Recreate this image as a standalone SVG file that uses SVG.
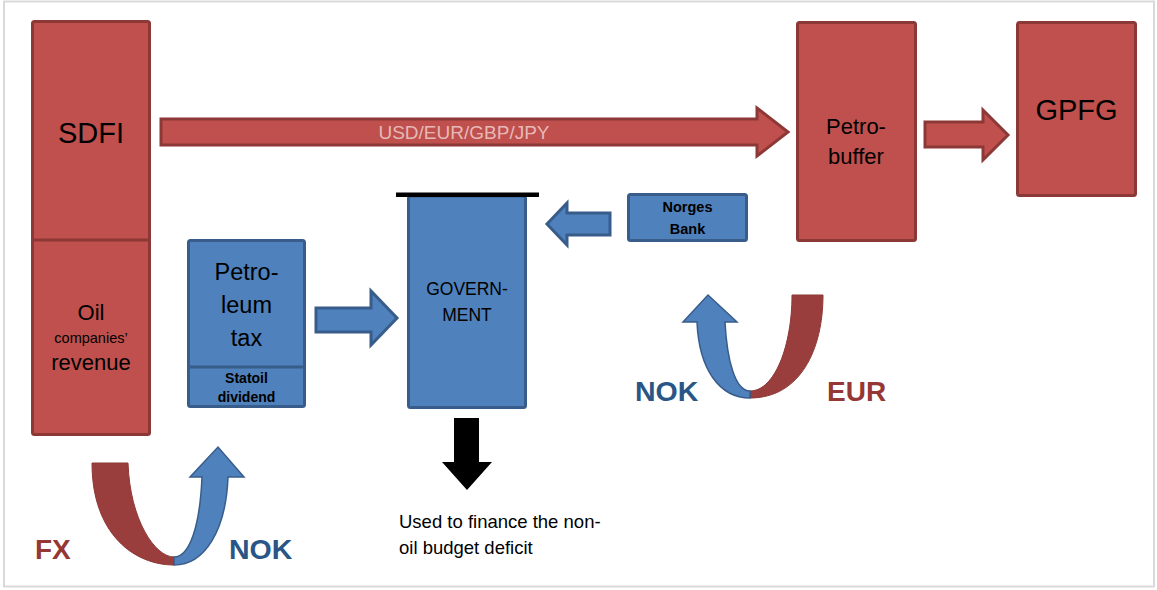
<svg xmlns="http://www.w3.org/2000/svg" width="1157" height="590" viewBox="0 0 1157 590">
<style>
.red{fill:#C0504D;stroke:#8C3836;stroke-width:3}
.blue{fill:#4F81BD;stroke:#385D8A;stroke-width:3}
.t{font-family:"Liberation Sans",Arial,sans-serif;fill:#000;text-anchor:middle}
.b{font-weight:bold}
.lbl{font-family:"Liberation Sans",Arial,sans-serif;font-weight:bold}
.note{font-family:"Liberation Sans",Arial,sans-serif;fill:#000;font-size:18.5px}
</style>
<rect x="0" y="0" width="1157" height="590" fill="#fff"/>
<rect x="4" y="1.5" width="1150" height="585" fill="#fff" stroke="#D9D9D9" stroke-width="2"/>

<g id="connectors">
  <path class="red" d="M161,119 L757,119 L757,108 L788,132 L757,156 L757,145 L161,145 Z"/>
  <text class="t" x="464" y="139" font-size="19" style="fill:#E6B9B8">USD/EUR/GBP/JPY</text>
  <path class="red" d="M925,122 L983,122 L983,110 L1008,135 L983,160 L983,147 L925,147 Z"/>
  <path class="blue" d="M316,308 L371,308 L371,291 L397,318 L371,345 L371,332 L316,332 Z"/>
  <path class="blue" d="M610,213 L567,213 L567,203 L547,224 L567,245 L567,235 L610,235 Z"/>
  <path d="M454,418 L479,418 L479,462 L492,462 L467,490 L442,462 L454,462 Z" fill="#000"/>
  <g id="fx-left">
    <path d="M92,463 L128,463 C130,520 155,557 174,557 L174,565 C135,565 92,535 92,463 Z" fill="#993E3C" stroke="#8C3836" stroke-width="1"/>
    <path d="M174,557 C190,557 200,525 202,477 L190,477 L218,447 L244,477 L228,477 C226,530 205,565 174,565 Z" fill="#4F81BD" stroke="#385D8A" stroke-width="1.5"/>
  </g>
  <g id="fx-right">
    <path d="M750,398 C800,398 823,350 823,295 L792,295 C792,345 775,391 750,391 Z" fill="#993E3C" stroke="#8C3836" stroke-width="1"/>
    <path d="M750,391 C735,391 727,360 725,322 L737,322 L708,295 L683,322 L697,322 C699,370 720,398 750,398 Z" fill="#4F81BD" stroke="#385D8A" stroke-width="1.5"/>
  </g>
</g>

<g id="sdfi">
  <rect class="red" x="32.5" y="21.5" width="117" height="413" rx="2"/>
  <line x1="32.5" y1="240" x2="149.5" y2="240" stroke="#8C3836" stroke-width="3"/>
  <text class="t" x="91" y="143" font-size="29">SDFI</text>
  <text class="t" x="91" y="320" font-size="22">Oil</text>
  <text class="t" x="91" y="343" font-size="14.5">companies’</text>
  <text class="t" x="91" y="370" font-size="22">revenue</text>
</g>

<g id="petroleum-tax">
  <rect class="blue" x="188.5" y="240.5" width="116" height="166" rx="2"/>
  <line x1="188.5" y1="367" x2="304.5" y2="367" stroke="#385D8A" stroke-width="3"/>
  <text class="t" x="246.5" y="280" font-size="23.5">Petro-</text>
  <text class="t" x="246.5" y="313" font-size="23.5">leum</text>
  <text class="t" x="246.5" y="346" font-size="23.5">tax</text>
  <text class="t b" x="246.5" y="383" font-size="14">Statoil</text>
  <text class="t b" x="246.5" y="402" font-size="14">dividend</text>
</g>

<g id="government">
  <rect class="blue" x="408.5" y="196" width="117" height="211.5" rx="2"/>
  <rect x="396" y="192.5" width="143" height="4.5" fill="#000"/>
  <text class="t" x="467" y="295" font-size="17.5">GOVERN-</text>
  <text class="t" x="467" y="321" font-size="17.5">MENT</text>
</g>

<g id="norges-bank">
  <rect class="blue" x="628.5" y="194.5" width="118" height="46" rx="2"/>
  <text class="t b" x="687.5" y="212" font-size="14.5">Norges</text>
  <text class="t b" x="687.5" y="234" font-size="14.5">Bank</text>
</g>

<g id="petro-buffer">
  <rect class="red" x="797.5" y="22.5" width="118" height="218" rx="2"/>
  <text class="t" x="856" y="134" font-size="22">Petro-</text>
  <text class="t" x="856" y="164" font-size="22">buffer</text>
</g>

<g id="gpfg">
  <rect class="red" x="1017.5" y="22.5" width="118" height="173" rx="2"/>
  <text class="t" x="1076.5" y="120" font-size="29">GPFG</text>
</g>

<g id="labels">
  <text class="lbl" x="35" y="559" font-size="28" fill="#953735">FX</text>
  <text class="lbl" x="229" y="559" font-size="28.5" fill="#2A5587">NOK</text>
  <text class="lbl" x="635" y="401" font-size="28.5" fill="#2A5587">NOK</text>
  <text class="lbl" x="827" y="401" font-size="28" fill="#953735">EUR</text>
</g>

<g id="note">
  <text class="note" x="399" y="528">Used to finance the non-</text>
  <text class="note" x="399" y="554">oil budget deficit</text>
</g>
</svg>
